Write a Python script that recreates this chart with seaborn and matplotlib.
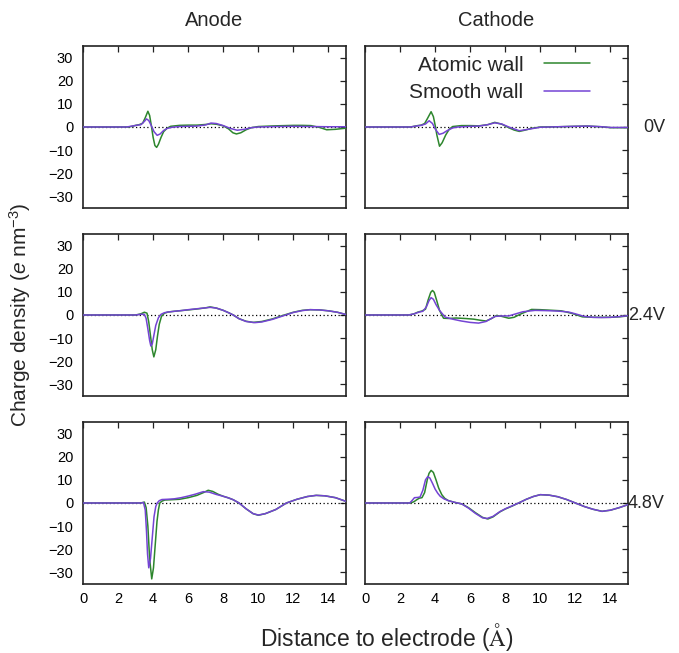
import numpy as np
import pandas as pd
import seaborn as sns
import matplotlib
matplotlib.use("Agg")
import matplotlib.pyplot as plt
from matplotlib.lines import Line2D

# ---------------- data ----------------
columns = ["Anode", "Cathode"]
voltages = ["0V", "2.4V", "4.8V"]
series_names = ["Atomic wall", "Smooth wall"]
x_ticks = [0, 2, 4, 6, 8, 10, 12, 14]
y_ticks = [-30, -20, -10, 0, 10, 20, 30]

# Anode 0V
a0_atomic_x = [0, 2.6, 2.8, 3.0, 3.2, 3.4, 3.55, 3.7, 3.8, 3.9, 4.0, 4.1, 4.2, 4.3, 4.45, 4.6, 4.8, 5.0, 5.5, 6.0, 6.5, 7.0, 7.3, 7.6, 8.0, 8.3, 8.55, 8.75, 9.0, 9.3, 9.6, 10, 11, 12, 12.5, 13, 13.5, 13.9, 14.4, 15]
a0_atomic_y = [0, 0, 0.3, 0.7, 1.0, 1.6, 4.0, 6.8, 5.0, 0.5, -4.5, -8.0, -8.8, -7.5, -4.5, -2.0, -0.5, 0.3, 0.7, 0.8, 0.8, 1.1, 1.4, 1.2, 0.5, -0.8, -2.5, -3.0, -2.5, -1.2, -0.3, 0.2, 0.5, 0.7, 0.7, 0.6, -0.2, -1.2, -1.0, -0.5]
a0_smooth_x = [0, 2.5, 2.8, 3.1, 3.3, 3.5, 3.62, 3.75, 3.9, 4.05, 4.23, 4.4, 4.6, 4.8, 5.1, 5.5, 6, 6.5, 7.0, 7.3, 7.6, 8.0, 8.4, 8.8, 9.2, 9.6, 10, 11, 12, 13, 14, 15]
a0_smooth_y = [0, 0, 0.4, 0.8, 1.0, 2.4, 3.5, 2.8, 0.5, -2.0, -3.6, -3.0, -1.5, -0.6, -0.1, 0.2, 0.3, 0.4, 0.9, 1.7, 1.5, 0.6, -0.6, -1.4, -1.0, -0.3, 0.0, 0.2, 0.3, 0.2, 0.1, 0.1]

# Cathode 0V
c0_atomic_x = [0, 2.6, 2.8, 3.0, 3.2, 3.4, 3.55, 3.77, 3.9, 4.0, 4.1, 4.25, 4.4, 4.6, 4.8, 5.0, 5.5, 6.0, 6.5, 7.0, 7.4, 7.8, 8.2, 8.5, 8.8, 9.1, 9.5, 10, 11, 12, 12.7, 13.5, 14, 15]
c0_atomic_y = [0, 0, 0.3, 0.6, 0.8, 1.5, 3.5, 6.6, 4.5, 0.8, -3.5, -8.3, -6.8, -3.5, -1.0, 0.2, 0.6, 0.6, 0.5, 1.0, 2.0, 1.2, -0.3, -1.3, -1.9, -1.4, -0.6, 0.0, 0.1, 0.3, 0.4, 0.1, -0.3, -0.3]
c0_smooth_x = [0, 2.6, 2.9, 3.2, 3.45, 3.66, 3.85, 4.0, 4.23, 4.45, 4.7, 5.0, 5.3, 6.0, 6.5, 7.0, 7.4, 7.8, 8.2, 8.8, 9.3, 10, 11, 12, 12.7, 13.5, 14, 15]
c0_smooth_y = [0, 0, 0.4, 0.7, 1.3, 2.7, 1.5, -0.8, -3.2, -2.7, -1.5, -0.4, 0.0, 0.3, 0.4, 1.0, 1.8, 1.3, 0.0, -1.6, -1.0, -0.1, 0.1, 0.3, 0.4, 0.1, -0.2, -0.2]

# Anode 2.4V
a2_atomic_x = [0, 3.0, 3.3, 3.5, 3.65, 3.75, 3.85, 3.95, 4.04, 4.15, 4.25, 4.35, 4.48, 4.65, 4.86, 5.2, 5.6, 6.0, 6.5, 7.0, 7.25, 7.6, 8.0, 8.3, 8.57, 8.9, 9.3, 9.7, 10.2, 10.8, 11.4, 12.0, 12.5, 12.95, 13.5, 14.0, 14.5, 15]
a2_atomic_y = [0, 0, 0.5, 1.2, 0.8, -3, -9, -15, -18.1, -15, -9, -4, -0.5, 0.8, 1.3, 1.6, 1.9, 2.2, 2.6, 3.1, 3.5, 3.0, 2.0, 1.0, 0, -1.6, -2.7, -3.2, -2.8, -1.7, -0.2, 1.2, 2.0, 2.3, 2.2, 1.8, 1.2, 0.2]
a2_smooth_x = [0, 3.0, 3.3, 3.5, 3.6, 3.7, 3.8, 3.87, 3.95, 4.05, 4.15, 4.3, 4.45, 4.65, 4.86, 5.2, 5.6, 6.0, 6.5, 7.0, 7.25, 7.6, 8.0, 8.3, 8.57, 8.9, 9.3, 9.8, 10.2, 10.8, 11.4, 12.0, 12.5, 12.95, 13.5, 14.0, 14.5, 15]
a2_smooth_y = [0, 0, 0.3, 0.3, -1.5, -6, -11, -13.4, -12.5, -8.5, -4.5, -1.2, 0.3, 1.0, 1.3, 1.6, 1.9, 2.3, 2.7, 3.1, 3.3, 3.0, 2.0, 1.0, 0, -1.6, -2.8, -3.3, -3.0, -1.9, -0.4, 1.1, 1.9, 2.3, 2.2, 1.8, 1.2, 0.2]

# Cathode 2.4V
c2_atomic_x = [0, 2.5, 2.8, 3.0, 3.24, 3.45, 3.6, 3.75, 3.85, 3.95, 4.1, 4.25, 4.48, 4.8, 5.2, 5.7, 6.2, 6.6, 6.9, 7.2, 7.5, 7.8, 8.2, 8.5, 8.9, 9.5, 10.0, 10.5, 11.2, 11.8, 12.4, 13.0, 13.5, 14.0, 14.5, 15]
c2_atomic_y = [0, 0, 0.5, 1.2, 1.7, 2.5, 6.5, 9.8, 10.6, 9.8, 6.0, 2.0, -1.4, -1.5, -1.3, -1.5, -1.8, -2.3, -2.6, -1.6, -0.2, -0.6, -1.4, -1.0, 0.5, 2.4, 2.3, 2.1, 1.8, 0.7, -0.8, -1.0, -1.0, -1.0, -0.8, -0.4]
c2_smooth_x = [0, 2.5, 2.8, 3.1, 3.3, 3.5, 3.65, 3.77, 3.9, 4.05, 4.25, 4.57, 5.0, 5.5, 6.0, 6.48, 6.9, 7.2, 7.43, 7.8, 8.2, 8.6, 9.0, 9.7, 10.3, 11.0, 11.6, 12.0, 12.5, 13.0, 13.5, 14.0, 14.5, 15]
c2_smooth_y = [0, 0, 0.5, 1.3, 1.6, 3.5, 6.2, 7.5, 6.8, 4.5, 2.0, -0.9, -1.8, -2.6, -3.2, -3.5, -2.8, -1.5, -0.6, -0.4, -0.4, 0.5, 1.4, 2.0, 1.9, 1.7, 1.3, 0.5, -0.6, -1.0, -1.1, -1.0, -0.7, -0.3]

# Anode 4.8V
a4_atomic_x = [0, 3.3, 3.5, 3.6, 3.7, 3.8, 3.92, 4.02, 4.12, 4.22, 4.3, 4.38, 4.5, 4.67, 5.0, 5.5, 6.0, 6.5, 6.9, 7.14, 7.4, 7.7, 8.0, 8.3, 8.57, 8.9, 9.3, 9.7, 10.0, 10.4, 11.0, 11.6, 12.2, 12.8, 13.3, 13.8, 14.4, 15]
a4_atomic_y = [0, 0, 0.4, -2, -10, -24, -32.8, -28, -18, -8, -3, 0, 0.8, 1.3, 1.4, 1.6, 2.3, 3.3, 4.6, 5.5, 5.0, 3.8, 2.9, 2.2, 1.4, 0, -2.5, -4.6, -5.3, -4.6, -2.8, 0, 1.6, 2.8, 3.3, 3.1, 2.3, 0.7]
a4_smooth_x = [0, 3.3, 3.45, 3.55, 3.62, 3.68, 3.75, 3.85, 3.95, 4.05, 4.15, 4.23, 4.35, 4.5, 4.8, 5.2, 5.6, 6.0, 6.4, 6.86, 7.2, 7.6, 8.0, 8.3, 8.57, 8.9, 9.3, 9.7, 10.0, 10.4, 11.0, 11.6, 12.2, 12.8, 13.3, 13.8, 14.4, 15]
a4_smooth_y = [0, 0, 0.2, -3, -12, -22, -28, -24, -15, -6, -1.5, 0, 1.0, 1.5, 1.6, 1.8, 2.3, 3.0, 3.8, 4.9, 4.7, 3.7, 2.9, 2.2, 1.4, 0, -2.5, -4.6, -5.2, -4.6, -2.8, 0, 1.6, 2.8, 3.3, 3.1, 2.3, 0.7]

# Cathode 4.8V
c4_atomic_x = [0, 2.6, 2.8, 2.95, 3.1, 3.25, 3.4, 3.55, 3.65, 3.77, 3.9, 4.05, 4.2, 4.38, 4.55, 4.76, 5.1, 5.52, 5.9, 6.3, 6.7, 7.01, 7.3, 7.7, 8.0, 8.4, 8.76, 9.2, 9.6, 10.0, 10.5, 11.0, 11.5, 12.0, 12.5, 13.0, 13.52, 14.0, 14.5, 15]
c4_atomic_y = [0, 0, 0.6, 1.4, 2.1, 2.3, 4.5, 10, 12.8, 14.1, 13.2, 10, 6.5, 3.6, 2.0, 1.0, 0.3, -0.4, -2.0, -4.2, -6.2, -6.9, -6.0, -3.8, -2.6, -1.3, 0, 1.6, 2.8, 3.6, 3.4, 2.7, 1.5, 0, -1.5, -2.7, -3.6, -3.1, -2.0, -0.7]
c4_smooth_x = [0, 2.55, 2.7, 2.82, 3.0, 3.14, 3.3, 3.45, 3.58, 3.7, 3.85, 4.0, 4.15, 4.29, 4.5, 4.76, 5.1, 5.52, 5.9, 6.3, 6.7, 6.95, 7.3, 7.7, 8.0, 8.4, 8.76, 9.2, 9.6, 10.0, 10.5, 11.0, 11.5, 12.0, 12.5, 13.0, 13.52, 14.0, 14.5, 15]
c4_smooth_y = [0, 0, 1.2, 2.3, 2.4, 2.6, 5.5, 10, 11.4, 10.8, 8.5, 6.0, 4.2, 2.9, 1.8, 1.0, 0.3, -0.4, -2.2, -4.5, -6.4, -6.7, -5.8, -3.7, -2.5, -1.2, 0, 1.6, 2.8, 3.6, 3.4, 2.7, 1.5, 0, -1.5, -2.7, -3.6, -3.1, -2.0, -0.7]

panel_data = {
    ("Anode", "0V"): ((a0_atomic_x, a0_atomic_y), (a0_smooth_x, a0_smooth_y)),
    ("Cathode", "0V"): ((c0_atomic_x, c0_atomic_y), (c0_smooth_x, c0_smooth_y)),
    ("Anode", "2.4V"): ((a2_atomic_x, a2_atomic_y), (a2_smooth_x, a2_smooth_y)),
    ("Cathode", "2.4V"): ((c2_atomic_x, c2_atomic_y), (c2_smooth_x, c2_smooth_y)),
    ("Anode", "4.8V"): ((a4_atomic_x, a4_atomic_y), (a4_smooth_x, a4_smooth_y)),
    ("Cathode", "4.8V"): ((c4_atomic_x, c4_atomic_y), (c4_smooth_x, c4_smooth_y)),
}

rows = []
for (col, volt), series in panel_data.items():
    for name, (xs, ys) in zip(series_names, series):
        for xv, yv in zip(xs, ys):
            rows.append(dict(electrode=col, voltage=volt, wall=name, x=xv, y=yv))
df = pd.DataFrame(rows)

# ---------------- styling ----------------
sns.set_style("white")
plt.rcParams["font.family"] = ["Liberation Sans", "DejaVu Sans"]
plt.rcParams["mathtext.fontset"] = "custom"
plt.rcParams["mathtext.rm"] = "Liberation Sans"
plt.rcParams["mathtext.it"] = "Liberation Sans:italic"
plt.rcParams["axes.unicode_minus"] = True

palette = {"Atomic wall": "#2d862d", "Smooth wall": "#7444d4"}

W, H = 679, 653
fig = plt.figure(figsize=(W / 100, H / 100), dpi=100)

lefts = [83, 365]
tops = [46, 234, 422]
aw, ah = 263, 162

axes = {}
for r, volt in enumerate(voltages):
    for c, col in enumerate(columns):
        ax = fig.add_axes([lefts[c] / W, 1 - (tops[r] + ah) / H, aw / W, ah / H])
        axes[(col, volt)] = ax
        sub = df[(df.electrode == col) & (df.voltage == volt)]
        ax.axhline(0, color="black", lw=0.9, ls=(0, (1, 2)), zorder=1)
        sns.lineplot(data=sub, x="x", y="y", hue="wall", hue_order=series_names,
                     palette=palette, estimator=None, sort=False, lw=1.1,
                     ax=ax, legend=False, zorder=3)
        ax.set_xlim(0, 15)
        ax.set_ylim(-35, 35)
        ax.set_xticks(x_ticks)
        ax.set_yticks(y_ticks)
        ax.set_xlabel("")
        ax.set_ylabel("")
        ax.tick_params(direction="in", length=4.3, width=0.9, top=True, right=True,
                       labelsize=10.5, color="#222222", labelcolor="black")
        ax.tick_params(axis="y", pad=7)
        ax.tick_params(axis="x", pad=6)
        for s in ax.spines.values():
            s.set_linewidth(1.2)
            s.set_color("#222222")
            s.set_visible(True)
        if c == 1:
            ax.set_yticklabels([])
        else:
            ax.set_yticklabels([str(v).replace("-", "\u2212") for v in y_ticks])
        if r < 2:
            ax.set_xticklabels([])

# legend in top-right panel
handles = [Line2D([], [], color=palette[n], lw=1.1) for n in series_names]
axes[("Cathode", "0V")].legend(handles, series_names, loc="upper right",
                               bbox_to_anchor=(0.855, 0.94), frameon=False,
                               markerfirst=False, fontsize=15, handlelength=2.2,
                               handletextpad=1.0, labelspacing=0.4,
                               borderpad=0, borderaxespad=0)

# column titles
for c, col in enumerate(columns):
    fig.text((lefts[c] + aw / 2) / W, 1 - 26 / H, col, ha="center", va="baseline", fontsize=14.5)

# voltage labels
for r, volt in enumerate(voltages):
    zero_y = tops[r] + ah / 2
    fig.text(665 / W, 1 - zero_y / H, volt, ha="right", va="center", fontsize=13)

fig.text(20 / W, 1 - 315 / H, r"Charge density ($e\ \mathrm{nm}^{-3}$)", rotation=90,
         ha="center", va="center", fontsize=15)
fig.text(387 / W, 1 - 637 / H, r"Distance to electrode ($\mathrm{\AA}$)", ha="center",
         va="center", fontsize=16.5, math_fontfamily="cm")

fig.savefig("out.png", dpi=100)
